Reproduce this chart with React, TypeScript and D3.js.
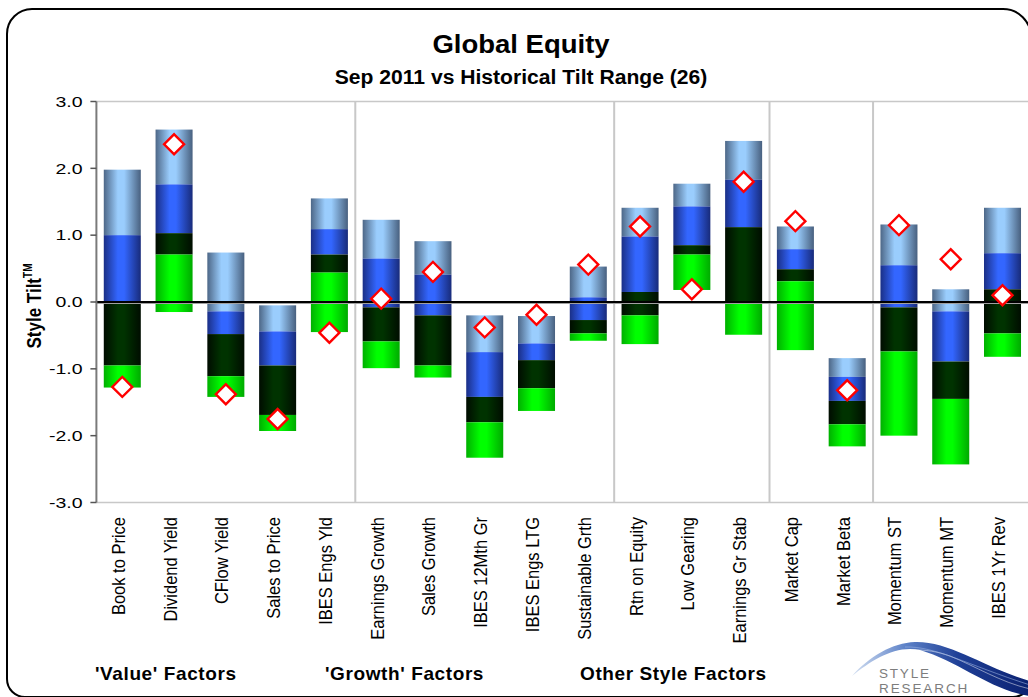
import React from "react";
import * as d3 from "d3";

// Style factors, left to right
const categories = [
  "Book to Price", "Dividend Yield", "CFlow Yield", "Sales to Price", "IBES Engs Yld",
  "Earnings Growth", "Sales Growth", "IBES 12Mth Gr", "IBES Engs LTG", "Sustainable Grth",
  "Rtn on Equity", "Low Gearing", "Earnings Gr Stab", "Market Cap", "Market Beta",
  "Momentum ST", "Momentum MT", "IBES 1Yr Rev",
];

// Historical tilt range: max, upper quartile, median, lower quartile, min
const maxV = [1.98, 2.58, 0.74, -0.05, 1.55, 1.23, 0.91, -0.20, -0.21, 0.53, 1.41, 1.77, 2.41, 1.13, -0.84, 1.16, 0.19, 1.41];
const q3V = [1.00, 1.76, -0.14, -0.44, 1.09, 0.65, 0.41, -0.75, -0.62, 0.07, 0.98, 1.43, 1.83, 0.79, -1.12, 0.55, -0.14, 0.73];
const medV = [0.00, 1.03, -0.48, -0.95, 0.71, -0.08, -0.20, -1.42, -0.87, -0.27, 0.15, 0.85, 1.12, 0.49, -1.48, -0.08, -0.89, 0.19];
const q1V = [-0.95, 0.71, -1.11, -1.69, 0.44, -0.59, -0.95, -1.80, -1.29, -0.47, -0.20, 0.71, -0.02, 0.31, -1.83, -0.74, -1.45, -0.47];
const minV = [-1.28, -0.15, -1.42, -1.93, -0.45, -0.99, -1.13, -2.33, -1.63, -0.58, -0.63, 0.18, -0.49, -0.72, -2.16, -2.00, -2.43, -0.82];

// Sep 2011 tilt
const current = [-1.27, 2.36, -1.38, -1.75, -0.46, 0.05, 0.45, -0.38, -0.19, 0.56, 1.13, 0.19, 1.80, 1.21, -1.32, 1.15, 0.64, 0.10];

const yTicks = [-3, -2, -1, 0, 1, 2, 3];

// Groups end after these category counts
const groupBreaks = [5, 10, 13, 15];
const groupLabels = ["'Value' Factors", "'Growth' Factors", "Other Style Factors"];
const groupLabelX = [95, 325, 580];

const FONT = "Arial, 'Liberation Sans', Helvetica, sans-serif";

const fmt = d3.formatLocale({
  decimal: ".",
  thousands: ",",
  grouping: [3],
  currency: ["$", ""],
  minus: "-",
}).format(".1f");

const segments = [
  { id: "gLight", lo: q3V, hi: maxV },
  { id: "gBlue", lo: medV, hi: q3V },
  { id: "gDark", lo: q1V, hi: medV },
  { id: "gGreen", lo: minV, hi: q1V },
];

const gradients = [
  { id: "gLight", edgeL: "#4d6787", peak: "#9acdfd", edgeR: "#48607f" },
  { id: "gBlue", edgeL: "#1a2f86", peak: "#3366ff", edgeR: "#182b7a" },
  { id: "gDark", edgeL: "#000c00", peak: "#003300", edgeR: "#000d00" },
  { id: "gGreen", edgeL: "#00b000", peak: "#00ff00", edgeR: "#00aa00" },
];

export default function App() {
  const W = 1028;
  const H = 697;
  const plotL = 96.4;
  const plotR = 1028.4;
  const plotT = 101.5;
  const plotB = 502.5;

  const x = d3
    .scaleBand<string>()
    .domain(categories)
    .range([plotL, plotR])
    .paddingInner(0.285)
    .paddingOuter(0.1425);
  const y = d3.scaleLinear().domain([-3, 3]).range([plotB, plotT]);
  const step = x.step();
  const bw = x.bandwidth();

  const diamond = d3.symbol().type(d3.symbolSquare).size(200)();

  const framePath =
    `M 32 9 L 1003 9 A 28 28 0 0 1 1031 37 L 1031 679 A 18 18 0 0 1 1013 697 ` +
    `L 25 697 A 18 18 0 0 1 7 679 L 7 34 A 25 25 0 0 1 32 9 Z`;

  return (
    <svg
      width={W}
      height={H}
      viewBox={`0 0 ${W} ${H}`}
      style={{ position: "absolute", left: 0, top: 0, display: "block", background: "#fff" }}
      fontFamily={FONT}
    >
      <defs>
        {gradients.map((g) => (
          <linearGradient key={g.id} id={g.id} x1="0" x2="1" y1="0" y2="0">
            <stop offset="0" stopColor={g.edgeL} />
            <stop offset="0.38" stopColor={g.peak} />
            <stop offset="0.55" stopColor={g.peak} />
            <stop offset="1" stopColor={g.edgeR} />
          </linearGradient>
        ))}
        <linearGradient id="swoosh" x1="0" x2="1" y1="0" y2="0">
          <stop offset="0" stopColor="#d4e0f2" />
          <stop offset="0.3" stopColor="#5d82c8" />
          <stop offset="0.6" stopColor="#1f3f96" />
          <stop offset="1" stopColor="#0b2170" />
        </linearGradient>
      </defs>

      <rect x={0} y={0} width={W} height={H} fill="#fff" />

      {/* Outer frame */}
      <path d={framePath} fill="none" stroke="#000" strokeWidth={2} />

      {/* Titles */}
      <text
        transform={`translate(521,53) scale(1.1,1)`}
        textAnchor="middle"
        fontSize={25}
        fontWeight="bold"
        fill="#000"
      >
        Global Equity
      </text>
      <text
        transform={`translate(521,84) scale(1.03,1)`}
        textAnchor="middle"
        fontSize={20.5}
        fontWeight="bold"
        fill="#000"
      >
        Sep 2011 vs Historical Tilt Range (26)
      </text>

      {/* Plot border lines */}
      <line x1={plotL} x2={W} y1={plotT} y2={plotT} stroke="#c8c8c8" strokeWidth={1.5} />
      <line x1={plotL} x2={W} y1={plotB} y2={plotB} stroke="#c8c8c8" strokeWidth={1.5} />

      {/* Group separators */}
      {groupBreaks.map((k) => (
        <line
          key={k}
          x1={plotL + step * k}
          x2={plotL + step * k}
          y1={plotT}
          y2={plotB}
          stroke="#c8c8c8"
          strokeWidth={2}
        />
      ))}

      {/* Range bars */}
      {categories.map((c, i) => (
        <g key={c}>
          {segments.map((s) => {
            const top = y(s.hi[i]);
            const bot = y(s.lo[i]);
            return (
              <rect
                key={s.id}
                x={x(c)}
                y={top}
                width={bw}
                height={Math.max(0, bot - top)}
                fill={`url(#${s.id})`}
              />
            );
          })}
        </g>
      ))}

      {/* Zero line */}
      <line x1={plotL} x2={W} y1={y(0) + 1.5} y2={y(0) + 1.5} stroke="#a0a0a0" strokeWidth={1} />
      <line x1={plotL} x2={W} y1={y(0)} y2={y(0)} stroke="#000" strokeWidth={2} />

      {/* Current tilt markers */}
      {categories.map((c, i) => (
        <path
          key={c}
          d={diamond || ""}
          transform={`translate(${(x(c) as number) + bw / 2},${y(current[i])}) rotate(45)`}
          fill="#fff"
          stroke="#ff0000"
          strokeWidth={2.4}
        />
      ))}

      {/* Y axis */}
      <line x1={plotL} x2={plotL} y1={plotT} y2={plotB} stroke="#7a7a7a" strokeWidth={2} />
      {yTicks.map((t) => (
        <g key={t}>
          <line x1={plotL - 6} x2={plotL} y1={y(t)} y2={y(t)} stroke="#555" strokeWidth={1.5} />
          <text
            transform={`translate(82.5,${y(t) + 5.3}) scale(1.3,1)`}
            textAnchor="end"
            fontSize={15}
            fill="#000"
          >
            {fmt(t)}
          </text>
        </g>
      ))}
      <text
        transform={`translate(40.5,306) rotate(-90) scale(1,1.2)`}
        textAnchor="middle"
        fontSize={17}
        fontWeight="bold"
        fill="#000"
      >
        Style Tilt
        <tspan fontSize={10} dy={-7}>
          TM
        </tspan>
      </text>

      {/* Category labels */}
      {categories.map((c) => (
        <text
          key={c}
          transform={`translate(${(x(c) as number) + bw / 2 + 2.5},517) rotate(-90) scale(1,1.15)`}
          textAnchor="end"
          fontSize={16.5}
          fill="#000"
        >
          {c}
        </text>
      ))}

      {/* Group labels */}
      {groupLabels.map((g, i) => (
        <text
          key={g}
          x={groupLabelX[i]}
          y={680}
          fontSize={19}
          fontWeight="bold"
          letterSpacing={0.6}
          fill="#000"
        >
          {g}
        </text>
      ))}

      {/* Logo */}
      <g>
        <path
          d="M 852 676 C 870 656, 892 643, 915 642 C 950 641, 985 668, 1030 681 L 1030 696 C 990 690, 960 662, 920 650 C 895 645, 872 660, 852 676 Z"
          fill="url(#swoosh)"
        />
        <path
          d="M 880 660 C 900 648, 925 647, 950 656 C 975 666, 1000 682, 1030 689"
          fill="none"
          stroke="#ffffff"
          strokeOpacity={0.6}
          strokeWidth={0.8}
        />
        <path
          d="M 905 647 C 935 646, 965 664, 1030 685"
          fill="none"
          stroke="#9fb8e6"
          strokeOpacity={0.7}
          strokeWidth={0.8}
        />
        <text x={879} y={678} fontSize={13.5} letterSpacing={1.8} fill="#7d7d7d">
          STYLE
        </text>
        <text x={879} y={693} fontSize={13.5} letterSpacing={1.9} fill="#7d7d7d">
          RESEARCH
        </text>
      </g>
    </svg>
  );
}
